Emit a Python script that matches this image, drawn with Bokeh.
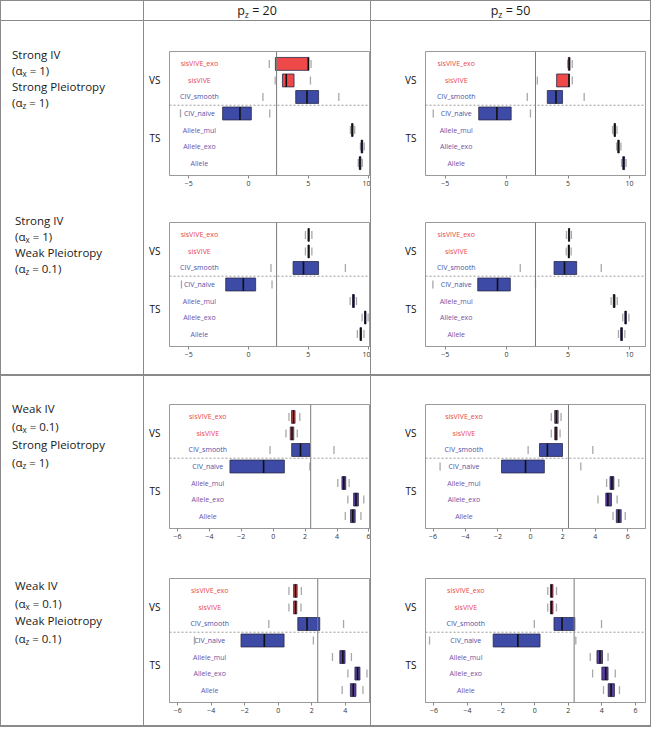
from bokeh.plotting import figure
from bokeh.models import Range1d, FixedTicker, Span, Div, ColumnDataSource
from bokeh.layouts import row, column
from bokeh.embed import file_html
from bokeh.resources import INLINE
from bokeh.core.properties import value

# ---------------- data ----------------
methods = ["sisVIVE_exo", "sisVIVE", "CIV_smooth", "CIV_naive", "Allele_mul", "Allele_exo", "Allele"]
method_group = ["VS", "VS", "VS", "TS", "TS", "TS", "TS"]
method_kind = ["sisVIVE", "sisVIVE", "CIV", "CIV", "Allele", "Allele", "Allele"]

pz_values = ["20", "50"]
iv_labels = ["Strong IV", "Strong IV", "Weak IV", "Weak IV"]
alpha_x = ["1", "1", "0.1", "0.1"]
pleio_labels = ["Strong Pleiotropy", "Weak Pleiotropy", "Strong Pleiotropy", "Weak Pleiotropy"]
alpha_z = ["1", "0.1", "1", "0.1"]

ticks_strong = [-5, 0, 5, 10]
ticks_weak = [-6, -4, -2, 0, 2, 4, 6]
true_effect = 2.35

# Strong IV / Strong pleiotropy
ss20 = dict(lo=[1.74, 2.23, 1.21, -5.68, 8.52, 9.36, 9.18],
            q1=[2.25, 2.84, 3.95, -2.16, 8.62, 9.42, 9.26],
            med=[5.00, 3.16, 4.89, -0.71, 8.68, 9.48, 9.32],
            q3=[5.05, 3.81, 5.86, 0.24, 8.74, 9.55, 9.40],
            hi=[5.23, 5.18, 7.55, 1.78, 8.88, 9.68, 9.52])
ss50 = dict(lo=[4.97, 2.50, 1.68, -5.97, 8.62, 8.95, 9.35],
            q1=[5.02, 4.07, 3.31, -2.27, 8.74, 9.05, 9.45],
            med=[5.10, 5.07, 4.02, -0.79, 8.80, 9.10, 9.52],
            q3=[5.15, 5.12, 4.55, 0.37, 8.86, 9.16, 9.60],
            hi=[5.34, 5.34, 6.31, 1.94, 8.98, 9.30, 9.72])
# Strong IV / Weak pleiotropy
sw20 = dict(lo=[4.76, 4.76, 1.88, -5.60, 8.50, 9.50, 9.10],
            q1=[4.98, 4.98, 3.73, -1.90, 8.70, 9.70, 9.32],
            med=[5.03, 5.03, 4.60, -0.43, 8.77, 9.76, 9.39],
            q3=[5.08, 5.08, 5.86, 0.60, 8.85, 9.82, 9.45],
            hi=[5.30, 5.30, 8.10, 1.97, 9.03, 10.0, 9.65])
sw50 = dict(lo=[4.87, 4.85, 1.11, -6.00, 8.50, 9.45, 9.10],
            q1=[5.03, 5.01, 3.86, -2.35, 8.68, 9.62, 9.28],
            med=[5.08, 5.06, 4.71, -0.74, 8.75, 9.68, 9.35],
            q3=[5.13, 5.11, 5.70, 0.30, 8.82, 9.74, 9.42],
            hi=[5.27, 5.25, 7.70, 2.35, 9.00, 9.95, 9.62])
# Weak IV / Strong pleiotropy
ws20 = dict(lo=[0.99, 0.80, -0.20, -6.90, 4.05, 4.68, 4.52],
            q1=[1.15, 1.07, 1.16, -2.71, 4.31, 5.04, 4.85],
            med=[1.27, 1.18, 1.71, -0.60, 4.43, 5.19, 4.99],
            q3=[1.37, 1.29, 2.30, 0.70, 4.55, 5.34, 5.14],
            hi=[1.67, 1.51, 3.81, 2.30, 4.76, 5.68, 5.50])
ws50 = dict(lo=[1.29, 1.29, -0.14, -5.57, 4.70, 4.17, 5.10],
            q1=[1.50, 1.50, 0.56, -1.78, 4.91, 4.65, 5.30],
            med=[1.60, 1.58, 1.05, -0.30, 5.03, 4.78, 5.45],
            q3=[1.71, 1.65, 1.98, 0.86, 5.15, 5.00, 5.60],
            hi=[1.89, 1.83, 3.85, 3.11, 5.45, 5.35, 5.85])
# Weak IV / Weak pleiotropy
ww20 = dict(lo=[0.63, 0.63, -0.57, -5.01, 3.23, 4.15, 3.81],
            q1=[0.91, 0.91, 1.16, -2.23, 3.67, 4.57, 4.30],
            med=[1.02, 1.02, 1.71, -0.84, 3.85, 4.73, 4.47],
            q3=[1.12, 1.10, 2.47, 0.34, 3.98, 4.87, 4.63],
            hi=[1.37, 1.35, 3.89, 2.09, 4.36, 5.29, 5.05])
ww50 = dict(lo=[0.78, 0.78, -0.02, -6.26, 3.31, 3.45, 4.10],
            q1=[0.94, 0.94, 1.15, -2.47, 3.71, 4.00, 4.38],
            med=[1.00, 1.00, 1.63, -1.00, 3.89, 4.23, 4.55],
            q3=[1.09, 1.09, 2.39, 0.32, 4.04, 4.37, 4.75],
            hi=[1.30, 1.30, 3.98, 2.45, 4.37, 4.80, 5.05])

# ---------------- style ----------------
FONT = "Open Sans"
LINE = "#8a8a8a"
box_colors = {"sisVIVE": "#EF4848", "CIV": "#3D4BA6", "Allele": "#5A3E9E"}
text_colors = {"sisVIVE": "#E8474B", "CIV": "#4B53A6", "Allele": "#7052A8"}
LABEL_X = -4.1

W_LAB, W_P20, W_P50 = 142, 226, 279
H_HEAD = 19
H_G1, H_G2 = 353, 349
ROW_GEOM = [(176, 30, 22), (177, 25, 28), (175, 28, 23), (174, 27, 23)]  # height, top, bottom
P20_LR = (25, 0)
P50_LR = (54, 5)


def minus(t):
    return str(t).replace("-", "\u2212")


def panel(d, xr, ticks, w, geom, lr):
    h, top, bottom = geom
    n = len(methods)
    src = ColumnDataSource(dict(
        pos=list(range(1, n + 1)), name=methods,
        lo=d["lo"], q1=d["q1"], med=d["med"], q3=d["q3"], hi=d["hi"],
        fill=[box_colors[k] for k in method_kind],
        tcol=[text_colors[k] for k in method_kind]))
    p = figure(width=w, height=h, x_range=Range1d(*xr), y_range=Range1d(n + 0.75, 0.25),
               output_backend="svg", toolbar_location=None,
               min_border_left=lr[0], min_border_right=lr[1],
               min_border_top=top, min_border_bottom=bottom)
    p.grid.visible = False
    p.outline_line_color = "#9a9a9a"
    p.outline_line_width = 1
    p.background_fill_color = "white"
    p.border_fill_color = "white"

    p.add_layout(Span(location=true_effect, dimension="height", line_color="#7a7a7a", line_width=1))
    n_vs = method_group.count("VS")
    p.add_layout(Span(location=n_vs + 0.5, dimension="width", line_color="#9a9a9a",
                      line_dash="2 2", line_width=1))

    p.text(x=LABEL_X, y="pos", text="name", text_color="tcol", text_align="center",
           text_baseline="middle", text_font=value(FONT), text_font_size="7px", source=src)
    for col in ("lo", "hi"):
        p.rect(x=col, y="pos", width=1.3, height=8, width_units="screen", height_units="screen",
               fill_color="#a8a8a8", line_color=None, source=src)
    p.hbar(y="pos", left="q1", right="q3", height=0.78, fill_color="fill",
           line_color="#2a2a4a", line_width=0.8, source=src)
    p.rect(x="med", y="pos", width=1.6, height=0.78, width_units="screen",
           fill_color="#111111", line_color=None, source=src)

    ax = p.xaxis[0]
    ax.ticker = FixedTicker(ticks=ticks)
    ax.major_label_overrides = {t: minus(t) for t in ticks}
    ax.major_label_text_font = FONT
    ax.major_label_text_font_size = "7px"
    ax.major_label_text_color = "#333333"
    ax.major_tick_out = 3
    ax.major_tick_in = 0
    ax.major_tick_line_color = "#888888"
    ax.minor_tick_line_color = None
    ax.axis_line_color = "#9a9a9a"
    ax.major_label_standoff = 2

    ay = p.yaxis[0]
    yt = [float(method_group.index("VS") + 1 + 1), (n_vs + 1 + n) / 2.0]
    ay.ticker = FixedTicker(ticks=yt)
    ay.major_label_overrides = {yt[0]: "VS", yt[1]: "TS"}
    ay.major_label_text_font = FONT
    ay.major_label_text_font_size = "10px"
    ay.major_label_text_color = "#111111"
    ay.major_tick_line_color = None
    ay.minor_tick_line_color = None
    ay.axis_line_color = None
    ay.major_label_standoff = 3
    return p


def line_div(w, h):
    return Div(text="", width=w, height=h, margin=0,
               styles={"background-color": LINE, "overflow": "hidden"})


SUB = '<sub style="font-size:0.7em;line-height:0;vertical-align:-0.3em">{}</sub>'


def label_block(i, left, top, lh):
    lines = [iv_labels[i],
             "(\u03b1" + SUB.format("x") + " = " + alpha_x[i] + ")",
             pleio_labels[i],
             "(\u03b1" + SUB.format("z") + " = " + alpha_z[i] + ")"]
    return (f'<div style="position:absolute;left:{left}px;top:{top}px;line-height:{lh}px;'
            f'white-space:nowrap">' + "<br>".join(lines) + "</div>")


def label_cell(blocks, h):
    inner = "".join(label_block(*b) for b in blocks)
    html = (f'<div style="position:relative;width:{W_LAB}px;height:{h}px;font-family:\'{FONT}\';'
            f'font-size:11.5px;color:#1a1a1a">' + inner + "</div>")
    return Div(text=html, width=W_LAB, height=h, margin=0, styles={"overflow": "hidden"})


def header_cell(pz, w):
    html = (f'<div style="width:{w}px;height:{H_HEAD}px;line-height:{H_HEAD}px;text-align:center;'
            f'font-family:\'{FONT}\';font-size:12.5px;color:#1a1a1a">p'
            + SUB.format("z") + f" = {pz}</div>")
    return Div(text=html, width=w, height=H_HEAD, margin=0, styles={"overflow": "hidden"})


# ---------------- panels ----------------
pA20 = panel(ss20, (-6.6, 10.2), ticks_strong, W_P20, ROW_GEOM[0], P20_LR)
pA50 = panel(ss50, (-6.6, 11.3), ticks_strong, W_P50, ROW_GEOM[0], P50_LR)
pB20 = panel(sw20, (-6.6, 10.2), ticks_strong, W_P20, ROW_GEOM[1], P20_LR)
pB50 = panel(sw50, (-6.6, 11.3), ticks_strong, W_P50, ROW_GEOM[1], P50_LR)
pC20 = panel(ws20, (-6.5, 6.1), ticks_weak, W_P20, ROW_GEOM[2], P20_LR)
pC50 = panel(ws50, (-6.47, 7.1), ticks_weak, W_P50, ROW_GEOM[2], P50_LR)
pD20 = panel(ww20, (-6.5, 5.5), ticks_weak, W_P20, ROW_GEOM[3], P20_LR)
pD50 = panel(ww50, (-6.5, 6.6), ticks_weak, W_P50, ROW_GEOM[3], P50_LR)

head = row(line_div(1, H_HEAD), Div(text="", width=W_LAB, height=H_HEAD, margin=0),
           line_div(1, H_HEAD), header_cell(pz_values[0], W_P20),
           line_div(1, H_HEAD), header_cell(pz_values[1], W_P50), line_div(1, H_HEAD))

g1 = row(line_div(1, H_G1), label_cell([(0, 11, 26, 16), (1, 14, 192, 16)], H_G1),
         line_div(1, H_G1), column(pA20, pB20),
         line_div(1, H_G1), column(pA50, pB50), line_div(1, H_G1))
g2 = row(line_div(1, H_G2), label_cell([(2, 11, 24, 18), (3, 14, 201, 17.5)], H_G2),
         line_div(1, H_G2), column(pC20, pD20),
         line_div(1, H_G2), column(pC50, pD50), line_div(1, H_G2))

TOTAL_W = 1 + W_LAB + 1 + W_P20 + 1 + W_P50 + 1
layout = column(line_div(TOTAL_W, 1), head, line_div(TOTAL_W, 1), g1,
                line_div(TOTAL_W, 2), g2, line_div(TOTAL_W, 2))

open("out.html", "w").write(file_html(layout, INLINE, title="IV simulation"))
